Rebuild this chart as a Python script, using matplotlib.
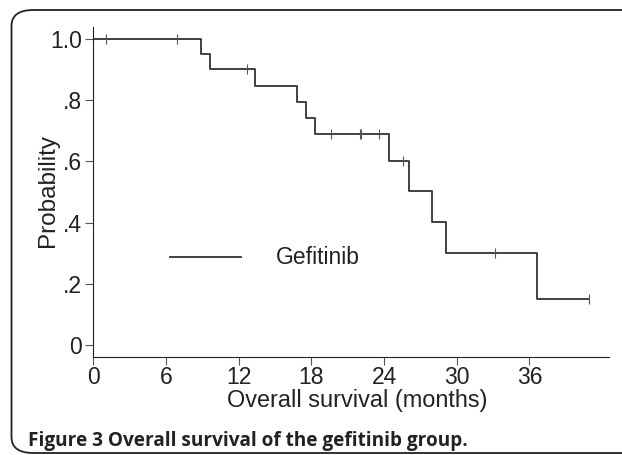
import matplotlib
matplotlib.use("Agg")
import matplotlib.pyplot as plt
from matplotlib.patches import FancyBboxPatch

# Kaplan-Meier step data (time in months, survival probability after event)
event_times = [0, 8.9, 9.65, 13.35, 16.8, 17.6, 18.3, 24.45, 26.1, 27.95, 29.1, 36.6]
survival = [1.0, 0.95, 0.90, 0.847, 0.794, 0.741, 0.688, 0.602, 0.502, 0.401, 0.301, 0.150]
end_time = 40.95
censor_times = [1.05, 6.95, 12.65, 19.6, 22.05, 22.1, 23.6, 25.55, 33.2, 40.95]
censor_surv = [1.0, 1.0, 0.90, 0.688, 0.688, 0.688, 0.688, 0.602, 0.301, 0.150]

xticks = [0, 6, 12, 18, 24, 30, 36]
yticks = [0, 0.2, 0.4, 0.6, 0.8, 1.0]
ytick_labels = ["0", ".2", ".4", ".6", ".8", "1.0"]
series_name = "Gefitinib"
xlabel = "Overall survival (months)"
ylabel = "Probability"
caption = "Figure 3 Overall survival of the gefitinib group."

W, H = 622, 455
fig = plt.figure(figsize=(W / 100, H / 100), dpi=100)

# rounded frame, open to the right
frame = FancyBboxPatch((11.5 / W, (H - 453) / H), 1.2, (453 - 10) / H,
                       boxstyle="round,pad=0,rounding_size=0.035",
                       transform=fig.transFigure, fill=False,
                       edgecolor="#222222", linewidth=1.3)
fig.patches.append(frame)

ax = fig.add_axes([93.3 / W, (H - 356.7) / H, (609.3 - 93.3) / W, (356.7 - 26.7) / H])

col = "#333333"
xs = event_times + [end_time]
ys = survival + [survival[-1]]
ax.step(xs, ys, where="post", color=col, linewidth=1.3)
ax.plot(censor_times, censor_surv, linestyle="none", marker="|", markersize=7,
        markeredgewidth=0.8, color="#555555")

ax.set_xlim(0, 42.6)
ax.set_ylim(-0.037, 1.039)
ax.set_xticks(xticks)
ax.set_xticklabels([str(t) for t in xticks])
ax.set_yticks(yticks)
ax.set_yticklabels(ytick_labels)

font = "Liberation Sans"
tc = "#222222"
for lab in ax.get_xticklabels() + ax.get_yticklabels():
    lab.set_fontfamily(font)
    lab.set_fontsize(16.5)
    lab.set_color(tc)

ax.spines["top"].set_visible(False)
ax.spines["right"].set_visible(False)
ax.spines["left"].set_color(tc)
ax.spines["bottom"].set_color(tc)
ax.tick_params(axis="both", direction="out", length=6, width=0.8, color="#555555", pad=2)
ax.tick_params(axis="x", pad=1)

# axis titles
fig.text(48.4 / W, (H - 190.5) / H, ylabel, rotation=90, fontfamily=font, fontsize=17.5,
         color=tc, ha="center", va="center")
fig.text(357.2 / W, (H - 406.7) / H, xlabel, fontfamily=font, fontsize=16.9,
         color=tc, ha="center", va="baseline")

# legend (manual, like Stata)
ax.plot([6.3, 12.2], [0.288, 0.288], color=col, linewidth=1.3)
ax.text(15.1, 0.288, series_name, fontfamily=font, fontsize=16.5, color=tc,
        va="center", ha="left")

fig.text(27.5 / W, (H - 446) / H, caption, fontfamily="Open Sans", fontweight="bold",
         fontsize=13.7, color=tc, ha="left", va="baseline")

fig.savefig("out.png", dpi=100)
